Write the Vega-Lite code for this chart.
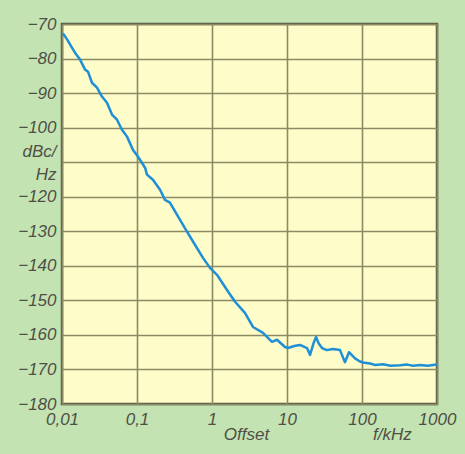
{
  "$schema": "https://vega.github.io/schema/vega-lite/v6.json",
  "width": 375,
  "height": 380,
  "autosize": {"type": "none"},
  "padding": {"left": 62, "top": 24, "right": 28, "bottom": 50},
  "background": "#c4e3b3",
  "config": {
    "view": {"fill": "#fefcc8", "stroke": "#5a5a46", "strokeWidth": 2.5},
    "axis": {
      "labelFont": "Liberation Sans",
      "labelFontStyle": "italic",
      "labelFontSize": 17,
      "labelColor": "#4f4f46",
      "gridColor": "#8a8a66",
      "gridWidth": 1.6,
      "domain": false,
      "ticks": false,
      "title": null,
      "labelOverlap": false,
      "labelFlush": false,
      "labelBound": false
    }
  },
  "data": {
    "values": [
      {"f": 0.0103, "dB": -72.7},
      {"f": 0.0118, "dB": -74.6},
      {"f": 0.0132, "dB": -76.4},
      {"f": 0.0149, "dB": -78.3},
      {"f": 0.0174, "dB": -80.3},
      {"f": 0.0203, "dB": -83.2},
      {"f": 0.0222, "dB": -83.8},
      {"f": 0.0251, "dB": -87.0},
      {"f": 0.0293, "dB": -88.4},
      {"f": 0.0341, "dB": -91.0},
      {"f": 0.0398, "dB": -92.8},
      {"f": 0.0464, "dB": -96.2},
      {"f": 0.0541, "dB": -97.7},
      {"f": 0.0631, "dB": -100.6},
      {"f": 0.0736, "dB": -102.6},
      {"f": 0.0885, "dB": -106.5},
      {"f": 0.1, "dB": -108.0},
      {"f": 0.1096, "dB": -109.3},
      {"f": 0.128, "dB": -111.6},
      {"f": 0.136, "dB": -113.6},
      {"f": 0.163, "dB": -115.1},
      {"f": 0.203, "dB": -118.0},
      {"f": 0.236, "dB": -120.9},
      {"f": 0.275, "dB": -121.7},
      {"f": 0.341, "dB": -125.2},
      {"f": 0.464, "dB": -130.1},
      {"f": 0.593, "dB": -133.9},
      {"f": 0.759, "dB": -137.7},
      {"f": 0.94, "dB": -140.6},
      {"f": 1.166, "dB": -142.6},
      {"f": 1.585, "dB": -147.0},
      {"f": 2.03, "dB": -150.4},
      {"f": 2.75, "dB": -153.6},
      {"f": 3.52, "dB": -157.7},
      {"f": 4.79, "dB": -159.4},
      {"f": 6.31, "dB": -162.0},
      {"f": 7.36, "dB": -161.4},
      {"f": 9.4, "dB": -163.5},
      {"f": 10.3, "dB": -163.8},
      {"f": 12.5, "dB": -163.2},
      {"f": 14.9, "dB": -162.9},
      {"f": 18.5, "dB": -163.8},
      {"f": 20.3, "dB": -165.8},
      {"f": 22.5, "dB": -162.5},
      {"f": 24.4, "dB": -160.6},
      {"f": 26.5, "dB": -162.5},
      {"f": 29.3, "dB": -163.8},
      {"f": 34.1, "dB": -164.4},
      {"f": 41.0, "dB": -164.1},
      {"f": 50.9, "dB": -164.4},
      {"f": 59.3, "dB": -167.9},
      {"f": 67.1, "dB": -165.0},
      {"f": 80.7, "dB": -166.8},
      {"f": 94.0, "dB": -167.7},
      {"f": 103, "dB": -168.0},
      {"f": 128, "dB": -168.3},
      {"f": 150, "dB": -168.7},
      {"f": 190, "dB": -168.5},
      {"f": 240, "dB": -168.9},
      {"f": 321, "dB": -168.8},
      {"f": 400, "dB": -168.6},
      {"f": 479, "dB": -168.9},
      {"f": 600, "dB": -168.7},
      {"f": 750, "dB": -168.9},
      {"f": 885, "dB": -168.7},
      {"f": 1000, "dB": -168.6}
    ]
  },
  "mark": {"type": "line", "color": "#1f8fd6", "strokeWidth": 2.5, "strokeJoin": "round", "clip": true},
  "encoding": {
    "x": {
      "field": "f",
      "type": "quantitative",
      "scale": {"type": "log", "domain": [0.01, 1000], "nice": false},
      "axis": {
        "values": [0.01, 0.1, 1, 2.84, 10, 100, 251, 1000],
        "labelPadding": 7,
        "labelLineHeight": 15,
        "labelExpr": "datum.value < 0.05 ? '0,01' : datum.value < 0.5 ? '0,1' : (datum.value > 2 && datum.value < 5) ? ['', 'Offset'] : (datum.value > 200 && datum.value < 500) ? ['', 'f/kHz'] : format(datum.value, 'd')",
        "gridOpacity": {"condition": {"test": "(datum.value > 2 && datum.value < 5) || (datum.value > 200 && datum.value < 500)", "value": 0}, "value": 1}
      }
    },
    "y": {
      "field": "dB",
      "type": "quantitative",
      "scale": {"domain": [-180, -70], "nice": false, "zero": false},
      "axis": {
        "values": [-180, -170, -160, -150, -140, -130, -120, -110, -100, -90, -80, -70],
        "labelPadding": 6,
        "labelLineHeight": 23,
        "labelOffset": {"condition": {"test": "datum.value == -110", "value": -11}, "value": 0},
        "labelExpr": "datum.value == -110 ? ['dBc/', 'Hz'] : replace(replace(format(datum.value, 'd'), '-', '−'), '\u2212', '−')",
        "encode": {
          "labels": {"update": {
            "align": {"signal": "datum.value == -110 ? 'center' : 'right'"},
            "dx": {"signal": "datum.value == -110 ? -23 : 0"}
          }}
        }
      }
    }
  }
}
